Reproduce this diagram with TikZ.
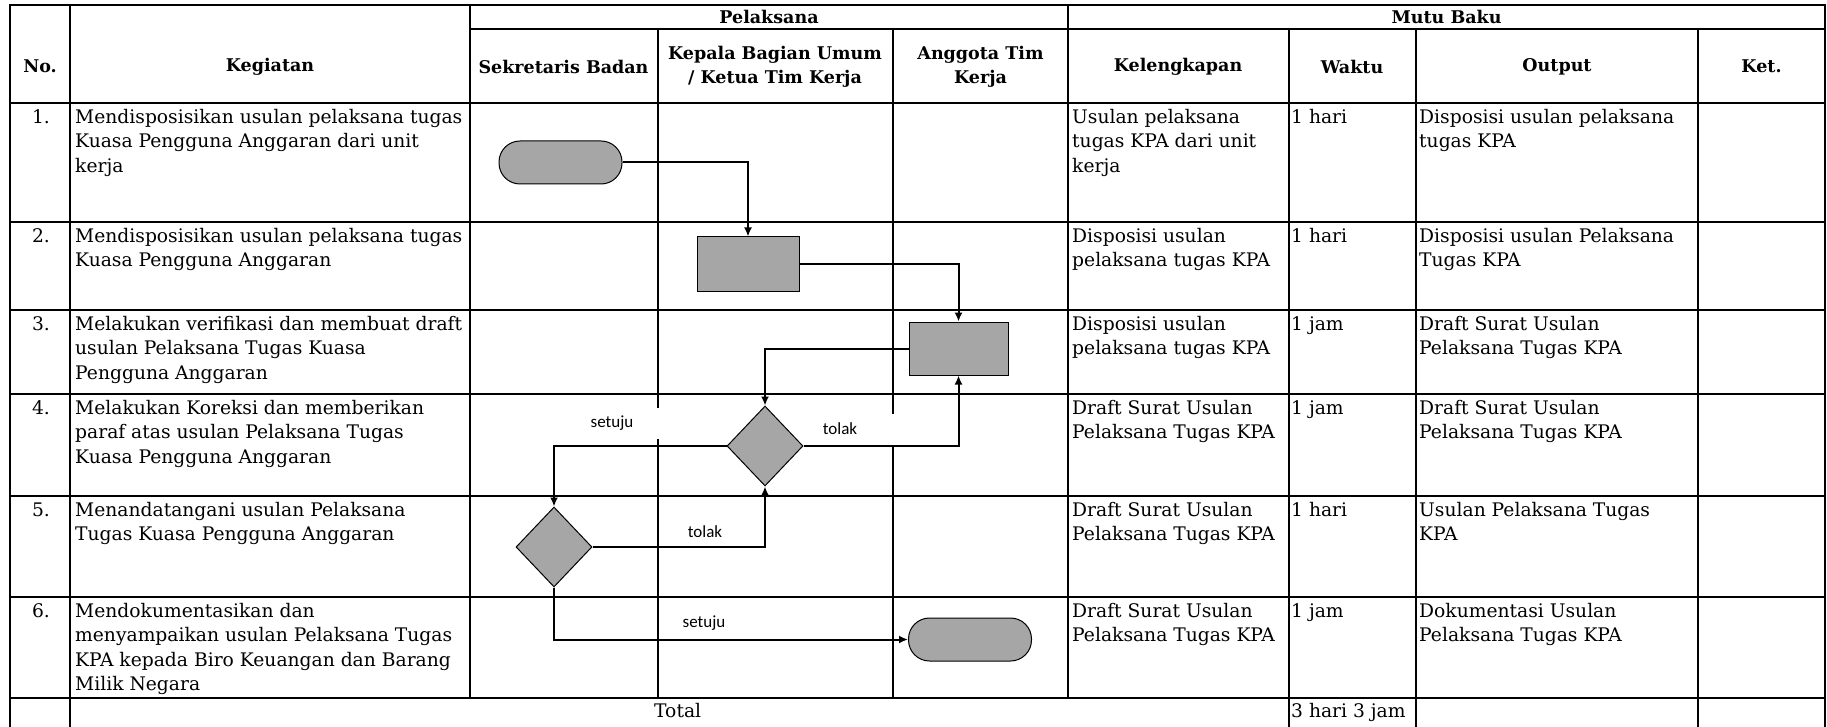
\documentclass[tikz,border=0pt]{standalone}
\usepackage{fontspec}
\setmainfont{DejaVu Serif}
\newfontfamily\lblfont{Carlito}
\usetikzlibrary{shapes.geometric,arrows.meta}
\definecolor{shade}{HTML}{A6A6A6}
\begin{document}
\begin{tikzpicture}[x=1pt,y=-1pt,
  gridline/.style={line width=2pt,line cap=rect},
  cell/.style={anchor=north west,inner sep=0pt,align=left,font=\fontsize{18.7}{24.5}\selectfont},
  numcell/.style={anchor=north,inner sep=0pt,align=center,font=\fontsize{18.7}{24.5}\selectfont},
  head/.style={align=center,inner sep=0pt,font=\bfseries\fontsize{17.5}{24}\selectfont},
  termbox/.style={draw=black,line width=1pt,fill=shade,rounded corners=21pt,minimum width=123pt,minimum height=43pt,inner sep=0pt},
  procbox/.style={draw=black,line width=1pt,fill=shade,inner sep=0pt},
  decision/.style={diamond,draw=black,line width=1pt,fill=shade,minimum width=76pt,minimum height=80pt,inner sep=0pt},
  flow/.style={line width=2pt,-{Latex[length=9pt,width=8pt]}},
  lbl/.style={font=\lblfont\fontsize{17}{20}\selectfont,inner sep=0pt}]
\useasboundingbox (0,0) rectangle (1827,727);
\fill[white] (0,0) rectangle (1827,727);
% ---- grid ----
\draw[gridline] (10,5) -- (1825,5);
\draw[gridline] (469.5,29) -- (1825,29);
\foreach \yy in {103,222,310,394,496,597,698} \draw[gridline] (10,\yy) -- (1825,\yy);
\draw[gridline] (10,5) -- (10,727);
\draw[gridline] (70,5) -- (70,727);
\draw[gridline] (469.5,5) -- (469.5,698);
\draw[gridline] (657.5,29) -- (657.5,698);
\draw[gridline] (893,29) -- (893,698);
\draw[gridline] (1068,5) -- (1068,698);
\draw[gridline] (1288.5,29) -- (1288.5,727);
\draw[gridline] (1415.5,29) -- (1415.5,727);
\draw[gridline] (1698,29) -- (1698,727);
\draw[gridline] (1825,5) -- (1825,727);
% ---- headers ----
\node[head] (hno) at (40,66.5) {No.};
\node[head] (hkeg) at (270,66.5) {Kegiatan};
\node[head] (hpel) at (769,17) {Pelaksana};
\node[head] (hmutu) at (1446.5,17) {Mutu Baku};
\node[head] (hsek) at (563.5,66.5) {Sekretaris Badan};
\node[head] (hkep) at (775,66.5) {Kepala Bagian Umum\\/ Ketua Tim Kerja};
\node[head] (hang) at (980.5,66.5) {Anggota Tim\\Kerja};
\node[head] (hkel) at (1178,66.5) {Kelengkapan};
\node[head] (hwak) at (1352,66.5) {Waktu};
\node[head] (hout) at (1557,66.5) {Output};
\node[head] (hket) at (1761.5,66.5) {Ket.};
% ---- row texts ----
\node[numcell] (n1) at (41,106) {\strut 1.};
\node[numcell] (n2) at (41,225) {\strut 2.};
\node[numcell] (n3) at (41,313) {\strut 3.};
\node[numcell] (n4) at (41,397) {\strut 4.};
\node[numcell] (n5) at (41,499) {\strut 5.};
\node[numcell] (n6) at (41,600) {\strut 6.};
\node[cell] (k1) at (75,106) {\strut Mendisposisikan usulan pelaksana tugas\\Kuasa Pengguna Anggaran dari unit\\kerja};
\node[cell] (k2) at (75,225) {\strut Mendisposisikan usulan pelaksana tugas\\Kuasa Pengguna Anggaran};
\node[cell] (k3) at (75,313) {\strut Melakukan verifikasi dan membuat draft\\usulan Pelaksana Tugas Kuasa\\Pengguna Anggaran};
\node[cell] (k4) at (75,397) {\strut Melakukan Koreksi dan memberikan\\paraf atas usulan Pelaksana Tugas\\Kuasa Pengguna Anggaran};
\node[cell] (k5) at (75,499) {\strut Menandatangani usulan Pelaksana\\Tugas Kuasa Pengguna Anggaran};
\node[cell] (k6) at (75,600) {\strut Mendokumentasikan dan\\menyampaikan usulan Pelaksana Tugas\\KPA kepada Biro Keuangan dan Barang\\Milik Negara};
\node[cell] (l1) at (1072,106) {\strut Usulan pelaksana\\tugas KPA dari unit\\kerja};
\node[cell] (l2) at (1072,225) {\strut Disposisi usulan\\pelaksana tugas KPA};
\node[cell] (l3) at (1072,313) {\strut Disposisi usulan\\pelaksana tugas KPA};
\node[cell] (l4) at (1072,397) {\strut Draft Surat Usulan\\Pelaksana Tugas KPA};
\node[cell] (l5) at (1072,499) {\strut Draft Surat Usulan\\Pelaksana Tugas KPA};
\node[cell] (l6) at (1072,600) {\strut Draft Surat Usulan\\Pelaksana Tugas KPA};
\node[cell] (w1) at (1291,106) {\strut 1 hari};
\node[cell] (w2) at (1291,225) {\strut 1 hari};
\node[cell] (w3) at (1291,313) {\strut 1 jam};
\node[cell] (w4) at (1291,397) {\strut 1 jam};
\node[cell] (w5) at (1291,499) {\strut 1 hari};
\node[cell] (w6) at (1291,600) {\strut 1 jam};
\node[cell] (o1) at (1419,106) {\strut Disposisi usulan pelaksana\\tugas KPA};
\node[cell] (o2) at (1419,225) {\strut Disposisi usulan Pelaksana\\Tugas KPA};
\node[cell] (o3) at (1419,313) {\strut Draft Surat Usulan\\Pelaksana Tugas KPA};
\node[cell] (o4) at (1419,397) {\strut Draft Surat Usulan\\Pelaksana Tugas KPA};
\node[cell] (o5) at (1419,499) {\strut Usulan Pelaksana Tugas\\KPA};
\node[cell] (o6) at (1419,600) {\strut Dokumentasi Usulan\\Pelaksana Tugas KPA};
\node[cell] (tot) at (654,700) {\strut Total};
\node[cell] (wtot) at (1291,700) {\strut 3 hari 3 jam};
% ---- flow labels ----
\node[lbl,fill=white,minimum width=104pt,minimum height=31pt] (ls1) at (612,423) {setuju};
\node[lbl,fill=white,minimum width=110pt,minimum height=31pt] (lt1) at (840,429) {tolak};
\node[lbl] (lt2) at (705,532) {tolak};
\node[lbl] (ls2) at (704,623) {setuju};
% ---- shapes ----
\node[termbox] (t1) at (560.5,162.5) {};
\node[procbox,minimum width=102pt,minimum height=54pt] (r2) at (748,264) {};
\node[procbox,minimum width=99pt,minimum height=53pt] (r3) at (958.5,348.5) {};
\node[decision] (d1) at (765,446) {};
\node[decision] (d2) at (554,547) {};
\node[termbox] (t2) at (970,639.5) {};
% ---- connectors ----
\draw[flow] (t1.east) -| (r2.north);
\draw[flow] (r2.east) -| (r3.north);
\draw[flow] (r3.west) -| (d1.north);
\draw[flow] (d1.east) -| (r3.south);
\draw[flow] (d1.west) -| (d2.north);
\draw[flow] (d2.east) -| (d1.south);
\draw[flow] (d2.south) |- (t2.west);
\end{tikzpicture}
\end{document}
